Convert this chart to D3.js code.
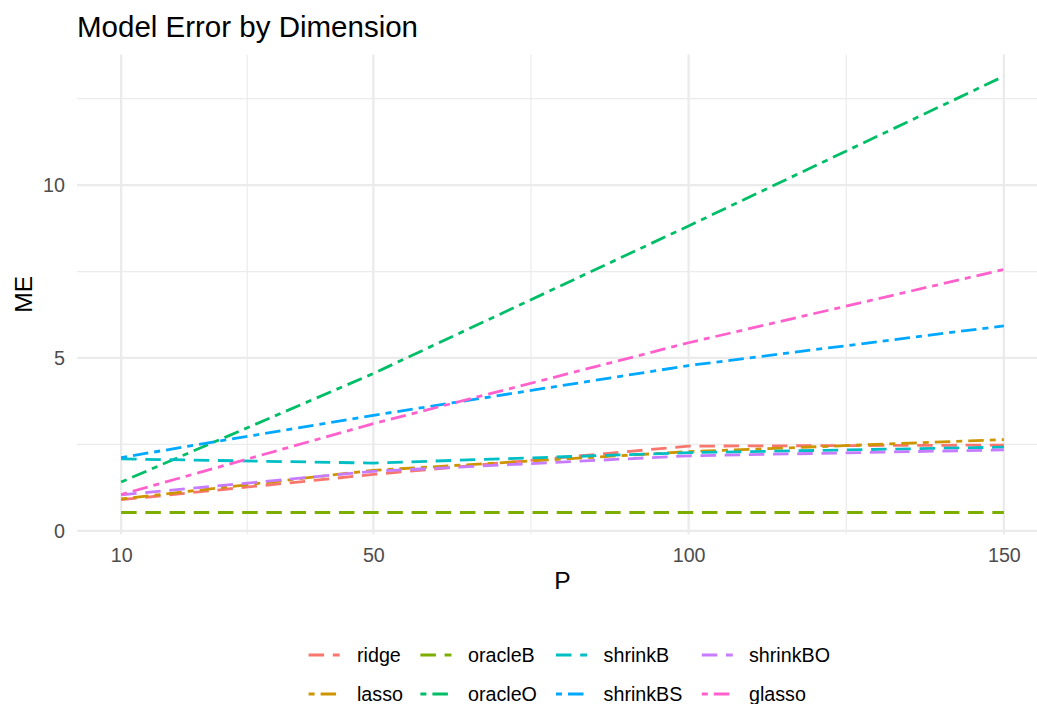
<!DOCTYPE html>
<html>
<head>
<meta charset="utf-8">
<script src="https://cdn.jsdelivr.net/npm/d3@7"></script>
<style>
  html, body { margin: 0; padding: 0; background: #ffffff; }
  svg { display: block; font-family: "Liberation Sans", Arial, Helvetica, sans-serif; }
</style>
</head>
<body>
<svg id="chart" width="1037" height="704"></svg>
<script>
// ---- data ----
const P = [10, 50, 100, 150];
const seriesNames = ["ridge", "lasso", "oracleB", "oracleO", "shrinkB", "shrinkBS", "shrinkBO", "glasso"];
const ridge    = [0.90, 1.63, 2.45, 2.48];
const lasso    = [0.92, 1.75, 2.29, 2.64];
const oracleB  = [0.53, 0.53, 0.53, 0.53];
const oracleO  = [1.41, 4.55, 8.82, 13.15];
const shrinkB  = [2.08, 1.96, 2.26, 2.42];
const shrinkBS = [2.12, 3.34, 4.78, 5.93];
const shrinkBO = [1.04, 1.72, 2.17, 2.34];
const glasso   = [1.05, 3.10, 5.44, 7.56];
const xTicks = [10, 50, 100, 150];
const xMinor = [30, 75, 125];
const yTicks = [0, 5, 10];
const yMinor = [2.5, 7.5, 12.5];
const colors = ["#F8766D", "#CD9600", "#7CAE00", "#00BE67", "#00BFC4", "#00A9FF", "#C77CFF", "#FF61CC"];
const linetypes = ["dashed", "dotdash", "dashed", "dotdash", "dashed", "dotdash", "dashed", "dotdash"];

const values = [ridge, lasso, oracleB, oracleO, shrinkB, shrinkBS, shrinkBO, glasso];
const series = seriesNames.map((name, i) => ({
  name, color: colors[i], lt: linetypes[i],
  pts: P.map((p, j) => ({ p, v: values[i][j] }))
}));

// ---- layout ----
const svg = d3.select("#chart");
const panel = { left: 77, right: 1048, top: 54.4, bottom: 534.3 };
const dash = { dashed: "15.5 8.7", dotdash: "6 6 15.5 6" };
const lineW = 2.8;

const xExt = d3.extent(P);
const xPad = (xExt[1] - xExt[0]) * 0.05;
const x = d3.scaleLinear().domain([xExt[0] - xPad, xExt[1] + xPad]).range([panel.left, panel.right]);
const allV = values.flat();
const yExt = d3.extent(allV);
const yPad = (yExt[1] - yExt[0]) * 0.05;
const y = d3.scaleLinear().domain([yExt[0] - yPad, yExt[1] + yPad]).range([panel.bottom, panel.top]);

// ---- grid ----
const grid = svg.append("g");
grid.selectAll(".ymin").data(yMinor).join("line")
  .attr("x1", panel.left).attr("x2", panel.right)
  .attr("y1", d => y(d)).attr("y2", d => y(d))
  .attr("stroke", "#EBEBEB").attr("stroke-width", 1.2);
grid.selectAll(".xmin").data(xMinor).join("line")
  .attr("y1", panel.top).attr("y2", panel.bottom)
  .attr("x1", d => x(d)).attr("x2", d => x(d))
  .attr("stroke", "#EBEBEB").attr("stroke-width", 1.2);
grid.selectAll(".ymaj").data(yTicks).join("line")
  .attr("x1", panel.left).attr("x2", panel.right)
  .attr("y1", d => y(d)).attr("y2", d => y(d))
  .attr("stroke", "#EBEBEB").attr("stroke-width", 2.3);
grid.selectAll(".xmaj").data(xTicks).join("line")
  .attr("y1", panel.top).attr("y2", panel.bottom)
  .attr("x1", d => x(d)).attr("x2", d => x(d))
  .attr("stroke", "#EBEBEB").attr("stroke-width", 2.3);

// ---- lines ----
const line = d3.line().x(d => x(d.p)).y(d => y(d.v));
svg.append("g").selectAll("path").data(series).join("path")
  .attr("d", d => line(d.pts))
  .attr("fill", "none")
  .attr("stroke", d => d.color)
  .attr("stroke-width", lineW)
  .attr("stroke-dasharray", d => dash[d.lt]);

// ---- axes ----
const tickFont = 19.7;
const xAxis = svg.append("g").attr("transform", `translate(0,${panel.bottom})`)
  .call(d3.axisBottom(x).tickValues(xTicks).tickSize(0).tickPadding(13.7).tickFormat(d3.format("d")));
xAxis.select(".domain").remove();
xAxis.selectAll("text").attr("font-size", tickFont).attr("fill", "#4D4D4D").attr("font-family", null);

const yAxis = svg.append("g").attr("transform", `translate(${panel.left},0)`)
  .call(d3.axisLeft(y).tickValues(yTicks).tickSize(0).tickPadding(12).tickFormat(d3.format("d")));
yAxis.select(".domain").remove();
yAxis.selectAll("text").attr("font-size", tickFont).attr("fill", "#4D4D4D").attr("font-family", null);

// ---- titles ----
svg.append("text").attr("x", 77).attr("y", 36.7)
  .attr("font-size", 29.5).attr("fill", "#000").text("Model Error by Dimension");
svg.append("text").attr("x", (panel.left + panel.right) / 2).attr("y", 589)
  .attr("text-anchor", "middle").attr("font-size", 24.6).attr("fill", "#000").text("P");
svg.append("text").attr("transform", `translate(32,${(panel.top + panel.bottom) / 2}) rotate(-90)`)
  .attr("text-anchor", "middle").attr("font-size", 24.6).attr("fill", "#000").text("ME");

// ---- legend ----
const legKeyX = [308.6, 420.4, 556, 701.8];
const legTextX = [357, 468, 603.6, 749];
const legRowY = [655, 694];
const keyW = 31;
const leg = svg.append("g");
series.forEach((s, i) => {
  const col = Math.floor(i / 2), row = i % 2;
  const g = leg.append("g");
  g.append("line")
    .attr("x1", legKeyX[col]).attr("x2", legKeyX[col] + keyW)
    .attr("y1", legRowY[row]).attr("y2", legRowY[row])
    .attr("stroke", s.color).attr("stroke-width", lineW)
    .attr("stroke-dasharray", dash[s.lt]);
  g.append("text").attr("x", legTextX[col]).attr("y", legRowY[row] + 7.2)
    .attr("font-size", tickFont).attr("fill", "#000").text(s.name);
});
</script>
</body>
</html>
